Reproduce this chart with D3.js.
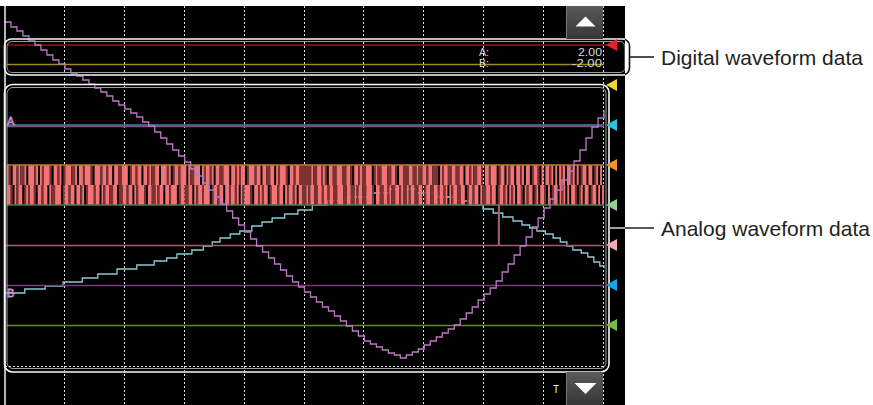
<!DOCTYPE html>
<html><head><meta charset="utf-8">
<script src="https://cdn.jsdelivr.net/npm/d3@7"></script>
<style>html,body{margin:0;padding:0;background:#fff;overflow:hidden}svg{display:block}</style>
</head><body>
<svg id="c" width="873" height="405"></svg>
<script>
// ---------------- DATA ----------------
const timeDomain = [0, 1000];            // ms, 100 ms / division
const gridTicks = [100, 200, 300, 400, 500, 600, 700, 800, 900, 1000];
const levelDomain = [0, 400];            // screen level units, 40 per division
const frameLevel = 39;                   // lower dotted frame line

// digital waveform (A / B)
const digitalLabels = ["A:", "B:"];
const digitalValues = ["2.00", "-2.00"];
const digitalLevels = [360, 340.5];

// analog baselines
const baselineLevels = [280, 278.5, 240, 200, 119.5, 79.5];

// channel markers
const markerLevels = [360, 320, 280, 240, 200, 160, 120, 80];

// purple trace, sampled every 10 ms
const purpleStep = 10;
const purpleValues = [383,378,374,369,364,360,355,350,345,341,336,332,329,325,321,317,313,309,304,300,
  296,292,288,283,279,273,267,261,255,249,243,236,229,222,215,208,201,194,187,180,
  173,166,159,153,147,141,135,129,123,118,113,108,103,98,94,89,84,79,74,69,
  64,61,58,55,52,50,47,50,53,56,60,64,68,72,76,80,86,92,98,105,
  111,117,124,133,141,150,159,168,178,187,197,206,215,225,234,244,255,267,278,287,295];

// cyan trace (step breakpoints)
const cyanT = [0,33,67,97,129,155,187,220,249,270,287,312,331,346,359,376,392,412,429,446,467,489,513,538,569,606,641,686,721,751,776,798,815,831,848,863,876,888,902,915,927,938,948,962,973,983,993,1000];
const cyanV = [112,116,119,123,127,131,136,140,144,147,151,155,159,163,167,171,174,179,183,187,191,195,200,204,208,212,216,212,208,204,200,196,192,188,184,180,177,174,171,167,163,159,155,152,148,143,139,137];

// pink trace (with one spike)
const pinkT = [0, 824, 825, 1000];
const pinkV = [159.5, 200, 159.5, 159.5];

// logic band (two bit rows): P = high, D = transition, . = low
const bandStart = 3;
const bandLevels = [240, 220, 200];
const bandTop = "PD.PPDPDDP.PPPDP.PDPPPD.PPDP.DPPPDDP.PPDPPPD.PPPDPP" +
  "DPP.PPDDPPP.DPPDPP.PPDPDDPP.PPPDP.DPPDPPP.PDDPPP.PD" +
  "PPDP.PPDDPPP.PPDPDPP.DPPPDPP.PPDDPP.PDPPPD.PPDPPDDD" +
  "DDDPDDPPDPD.PPDDPPPDDPPD.PPDPDDPPP.DPDDPPPDDPPD.PPD" +
  "DDPPDDPDDPPDPPDDD.PDPPDDPPDDPP.PPDPDDPPD.PPDPPP.DPP" +
  ".PDPP.PPDP.PP.DPPD.P.PPDP.P.PDP.PPDP.P.DPP.PP.DP.P.";
const bandBottom = "PPD.PDPP.DPDPPD.PPDPP.PDDPPP.DPPDPP.PPDP.DPPPDPP.PDP" +
  "PDDPP.DDPPDPP.PDPPPD.PPDDPDPP.PPDPPP.DPPDDPP.PDPPDPP" +
  "P.DPPDPP.PPDPPDP.PDPPPD.PPDPDPP.DPPPDPP.PDPPDP.PPDDP" +
  "DPPDDPPDPPDPPDDPPPDDPPDDPDPPDDPPPD.PPDDPPDPDDPPDPDD" +
  "PDPPDDPP.DPPDDPPDPPDP.PDPPDDPP.DPPDPP.PDDPPDPP.DPPD" +
  "P.PDP.PPD.PDPP.DP.PPD.P.DPP.PDP.P.PPD.DP.PP.DPP.P.P";

const calloutTexts = ["Digital waveform data", "Analog waveform data"];
const triggerLabel = "T";
const channelTags = ["A", "B"];
const channelTagLevels = [280, 108];

// ---------------- STYLE ----------------
const digitalColors = ["#d62020", "#a08c18"];
const baselineColors = ["#3d8f9e", "#8a4a98", "#c47a2c", "#4d7c4d", "#7a3a7c", "#5e8a2c"];
const markerColors = ["#e8202a", "#f2d232", "#2ec2d4", "#f39322", "#8fd08f", "#f7a7ba", "#1aa6e6", "#7dbd3c"];
const bandColors = {P: "#f27474", D: "#7a3232"};

// ---------------- DRAW ----------------
const svg = d3.select("#c");
const x = d3.scaleLinear().domain(timeDomain).range([5, 604]);
const y = d3.scaleLinear().domain(levelDomain).range([405, 5]);
const defs = svg.append("defs");
defs.append("clipPath").attr("id", "scr").append("rect")
  .attr("x", 0).attr("y", 6).attr("width", 625).attr("height", 399);
const g1 = defs.append("linearGradient").attr("id", "btn").attr("x1", 0).attr("y1", 0).attr("x2", 0).attr("y2", 1);
g1.append("stop").attr("offset", "0%").attr("stop-color", "#5a5a5a");
g1.append("stop").attr("offset", "100%").attr("stop-color", "#363636");

// screen
svg.append("rect").attr("x", 0).attr("y", 6).attr("width", 625).attr("height", 399).attr("fill", "#000");

// vertical dotted grid
svg.append("g").selectAll("line").data(gridTicks).join("line")
  .attr("x1", d => Math.round(x(d)) - 0.5).attr("x2", d => Math.round(x(d)) - 0.5)
  .attr("y1", 6).attr("y2", 405)
  .attr("stroke", "#e0e0e0").attr("stroke-width", 1).attr("stroke-dasharray", "2,2");
svg.append("line").attr("x1", x(0)).attr("x2", x(1000)).attr("y1", Math.round(y(frameLevel)) + 0.5).attr("y2", Math.round(y(frameLevel)) + 0.5)
  .attr("stroke", "#e0e0e0").attr("stroke-dasharray", "2,2");

const step = d3.line().curve(d3.curveStepAfter);
// cyan (drawn under the logic band)
svg.append("path").attr("d", step(cyanT.map((t, i) => [x(t), y(cyanV[i])])))
  .attr("fill", "none").attr("stroke", "#8ccbd0").attr("stroke-width", 1.3);

// logic band
function runs(str) {
  const out = []; let i = 0;
  while (i < str.length) { const c = str[i]; let j = i; while (j < str.length && str[j] === c) j++; if (c !== ".") out.push({c, start: i, len: j - i}); i = j; }
  return out;
}
[bandTop, bandBottom].forEach((row, k) => {
  const x0 = x(bandStart), cw = (x(timeDomain[1]) - x0) / row.length;
  const yt = y(bandLevels[k]), yb = y(bandLevels[k + 1]);
  svg.append("g").selectAll("rect").data(runs(row)).join("rect")
    .attr("x", d => x0 + d.start * cw).attr("width", d => d.len * cw)
    .attr("y", yt).attr("height", yb - yt)
    .attr("fill", d => bandColors[d.c]);
});

// digital lines
svg.append("g").selectAll("line").data(digitalLevels).join("line")
  .attr("x1", x(3)).attr("x2", (d, i) => i === 0 ? 608 : x(1000))
  .attr("y1", d => y(d)).attr("y2", d => y(d))
  .attr("stroke", (d, i) => digitalColors[i]).attr("stroke-width", (d, i) => i === 0 ? 1 : 1.5);

// baselines
svg.append("g").selectAll("line").data(baselineLevels).join("line")
  .attr("x1", x(3)).attr("x2", x(1000))
  .attr("y1", d => y(d)).attr("y2", d => y(d))
  .attr("stroke", (d, i) => baselineColors[i]).attr("stroke-width", 1.5);

// pink
svg.append("path").attr("d", step(pinkT.map((t, i) => [x(t), y(pinkV[i])])))
  .attr("fill", "none").attr("stroke", "#a0606e").attr("stroke-width", 1.5);
// purple
svg.append("path").attr("d", step(purpleValues.map((v, i) => [x(i * purpleStep), y(v)])))
  .attr("fill", "none").attr("stroke", "#b97ac2").attr("stroke-width", 1.3);

// channel tags
svg.append("g").selectAll("text").data(channelTags).join("text")
  .attr("x", 7).attr("y", (d, i) => y(channelTagLevels[i]))
  .attr("font-family", "Liberation Sans, Arial").attr("font-size", 11)
  .attr("fill", "none").attr("stroke", "#c890d8").attr("stroke-width", 0.8)
  .text(d => d);

// digital readouts
svg.append("g").selectAll("text").data(digitalLabels).join("text")
  .attr("x", 479).attr("y", (d, i) => 56 + i * 10.5)
  .attr("font-family", "Liberation Sans, Arial").attr("font-size", 10.5)
  .attr("fill", "#d8d8d8").attr("textLength", 10).attr("lengthAdjust", "spacingAndGlyphs")
  .text(d => d);
svg.append("g").selectAll("text").data(digitalValues).join("text")
  .attr("x", 602).attr("y", (d, i) => 56 + i * 10.5).attr("text-anchor", "end")
  .attr("font-family", "Liberation Sans, Arial").attr("font-size", 10.5)
  .attr("fill", "#d8d8d8").attr("textLength", d => d.length * 6).attr("lengthAdjust", "spacingAndGlyphs")
  .text(d => d);

// boxes (white on screen, black off screen)
function box(x0, y0, x1, y1, r, w) {
  svg.append("rect").attr("x", x0).attr("y", y0).attr("width", x1 - x0).attr("height", y1 - y0).attr("rx", r)
    .attr("fill", "none").attr("stroke", "#111").attr("stroke-width", w);
  svg.append("rect").attr("x", x0).attr("y", y0).attr("width", x1 - x0).attr("height", y1 - y0).attr("rx", r)
    .attr("fill", "none").attr("stroke", "#f4f4f4").attr("stroke-width", w).attr("clip-path", "url(#scr)");
}
box(4.5, 39, 629.5, 75, 7, 1.6);
svg.append("rect").attr("x", 7).attr("y", 41.5).attr("width", 618).attr("height", 31).attr("rx", 5)
  .attr("fill", "none").attr("stroke", "#9a9a9a").attr("stroke-width", 1).attr("clip-path", "url(#scr)");
box(4.5, 84.5, 609, 372, 8, 1.6);
svg.append("rect").attr("x", 7).attr("y", 87.5).attr("width", 599).attr("height", 281).attr("rx", 6)
  .attr("fill", "none").attr("stroke", "#a0a0a0").attr("stroke-width", 1);

// left border
svg.append("line").attr("x1", 5).attr("x2", 5).attr("y1", 6).attr("y2", 405).attr("stroke", "#f0f0f0").attr("stroke-width", 1.5);

// scroll buttons
[[6, 39, "up"], [372, 405, "down"]].forEach(([y0, y1, dir]) => {
  svg.append("rect").attr("x", 566).attr("y", y0).attr("width", 37).attr("height", y1 - y0).attr("fill", "url(#btn)");
  svg.append("line").attr("x1", 566.5).attr("x2", 566.5).attr("y1", y0).attr("y2", y1).attr("stroke", "#777");
  const cx = 585.5, cy = (y0 + y1) / 2 + (dir === "up" ? -1 : -0.5);
  const pts = dir === "up" ? [[cx, cy - 5], [cx - 10, cy + 5], [cx + 10, cy + 5]] : [[cx - 11, cy - 5], [cx + 11, cy - 5], [cx, cy + 6]];
  svg.append("polygon").attr("points", pts.map(p => p.join(",")).join(" ")).attr("fill", "#fff");
});

// markers
svg.append("g").selectAll("polygon").data(markerLevels).join("polygon")
  .attr("points", d => { const yy = y(d); return `606,${yy} 617,${yy - 6} 617,${yy + 6}`; })
  .attr("fill", (d, i) => markerColors[i]);

// trigger mark
svg.append("text").attr("x", 556).attr("y", 393).attr("text-anchor", "middle")
  .attr("font-family", "Liberation Sans, Arial").attr("font-size", 10).attr("fill", "#f0f0f0").text(triggerLabel);

// callouts
const calloutY = [57, 228];
const calloutX0 = [629.5, 609];
calloutTexts.forEach((t, i) => {
  const ln = () => svg.append("line").attr("x1", calloutX0[i]).attr("x2", 654).attr("y1", calloutY[i]).attr("y2", calloutY[i]).attr("stroke-width", 1.6);
  ln().attr("stroke", "#222");
  ln().attr("stroke", "#ccc").attr("clip-path", "url(#scr)");
  svg.append("text").attr("x", 661).attr("y", calloutY[i] + 7.5)
    .attr("font-family", "Liberation Sans, Arial").attr("font-size", 21).attr("fill", "#231f20").text(t);
});
</script>
</body></html>
